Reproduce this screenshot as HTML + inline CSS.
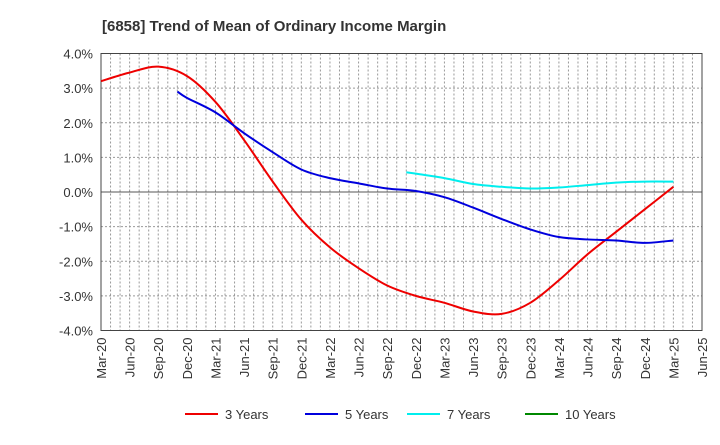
<!DOCTYPE html>
<html><head><meta charset="utf-8"><style>
body{margin:0;background:#fff;font-family:"Liberation Sans",Arial,sans-serif}
svg text{font-family:"Liberation Sans",Arial,sans-serif}
</style></head><body>
<svg id="c" width="720" height="440" xmlns="http://www.w3.org/2000/svg">
<text x="102" y="31" font-size="15" font-weight="bold" fill="#333">[6858]  Trend of Mean of Ordinary Income Margin</text>
<g id="grid"></g><g id="axes"></g><g id="series"></g><g id="legend"></g>
</svg>
<script>
const xLabels=["Mar-20","Jun-20","Sep-20","Dec-20","Mar-21","Jun-21","Sep-21","Dec-21","Mar-22","Jun-22","Sep-22","Dec-22","Mar-23","Jun-23","Sep-23","Dec-23","Mar-24","Jun-24","Sep-24","Dec-24","Mar-25","Jun-25"];
const yTicks=[4,3,2,1,0,-1,-2,-3,-4];
const s3=[3.2,3.45,3.62,3.35,2.6,1.5,0.3,-0.8,-1.6,-2.2,-2.7,-3.0,-3.2,-3.45,-3.52,-3.2,-2.55,-1.8,-1.15,-0.5,0.15];
const s5=[null,null,null,2.72,2.3,1.7,1.15,0.65,0.4,0.25,0.1,0.03,-0.15,-0.45,-0.78,-1.08,-1.3,-1.37,-1.4,-1.47,-1.4];
const s5FirstQ=[2.67];
const s5FirstV=[2.9];
const s7=[null,null,null,null,null,null,null,null,null,null,null,0.53,0.4,0.23,0.15,0.1,0.13,0.2,0.27,0.3,0.3];
const s7FirstQ=[10.67];
const s7FirstV=[0.57];
const s10=[];
const L=101,R=702,T=53.5,B=330.5;
const NS="http://www.w3.org/2000/svg";
function X(q){return L+(R-L)*q/21;}
function Y(v){return T+(4-v)*(B-T)/8;}
function mk(t,a,p){const e=document.createElementNS(NS,t);for(const k in a)e.setAttribute(k,a[k]);p.appendChild(e);return e;}
const grid=document.getElementById('grid'),axes=document.getElementById('axes'),ser=document.getElementById('series'),leg=document.getElementById('legend');
for(let m=1;m<63;m++){const x=L+(R-L)*m/63;const e=mk('line',{x1:x,x2:x,y1:T,y2:B,stroke:'#999','stroke-dasharray':'2,2','stroke-width':1},grid);

}
yTicks.forEach(v=>{const y=Y(v);const e=mk('line',{x1:L,x2:R,y1:y,y2:y,stroke:v===0?'#555':'#999','stroke-dasharray':v===0?'':'2,2','stroke-width':1},grid);


const t=mk('text',{x:L-8,y:y+5,'text-anchor':'end','font-size':13,fill:'#333'},axes);t.textContent=v.toFixed(1)+'%';

});
const fr=mk('rect',{x:L,y:T,width:R-L,height:B-T,fill:'none',stroke:'#444','stroke-width':1},axes);


xLabels.forEach((l,i)=>{const x=X(i);const t=mk('text',{transform:`translate(${x+5},${B+7}) rotate(-90)`,'text-anchor':'end','font-size':13,fill:'#333'},axes);t.textContent=l;

});
function path(arr,fq,fv){const pts=[];(fq||[]).forEach((q,i)=>pts.push([X(q),Y(fv[i])]));arr.forEach((v,i)=>{if(v!==null&&v!==undefined)pts.push([X(i),Y(v)]);});if(pts.length<2)return '';
let d=`M${pts[0][0]},${pts[0][1]}`;for(let i=0;i<pts.length-1;i++){const p0=pts[i-1]||pts[i],p1=pts[i],p2=pts[i+1],p3=pts[i+2]||p2;
d+=` C${p1[0]+(p2[0]-p0[0])/6},${p1[1]+(p2[1]-p0[1])/6} ${p2[0]-(p3[0]-p1[0])/6},${p2[1]-(p3[1]-p1[1])/6} ${p2[0]},${p2[1]}`;}return d;}
const series=[[s3,'#ee0000','3 Years','line-3-years',null,null],[s5,'#0000dd','5 Years','line-5-years',s5FirstQ,s5FirstV],[s7,'#00eeee','7 Years','line-7-years',s7FirstQ,s7FirstV],[s10,'#008800','10 Years','line-10-years',null,null]];
series.forEach(([a,c,n,id,fq,fv])=>{const d=path(a,fq,fv);if(d){const p=mk('path',{d:d,fill:'none',stroke:c,'stroke-width':2},ser);

}});
const lx=[185,305,407,525];
series.forEach(([a,c,n],i)=>{const g=mk('g',{},leg);


mk('line',{x1:lx[i],x2:lx[i]+33,y1:414,y2:414,stroke:c,'stroke-width':2},g);
const t=mk('text',{x:lx[i]+40,y:419,'font-size':13,fill:'#333'},g);t.textContent=n;});
</script>
</body></html>
